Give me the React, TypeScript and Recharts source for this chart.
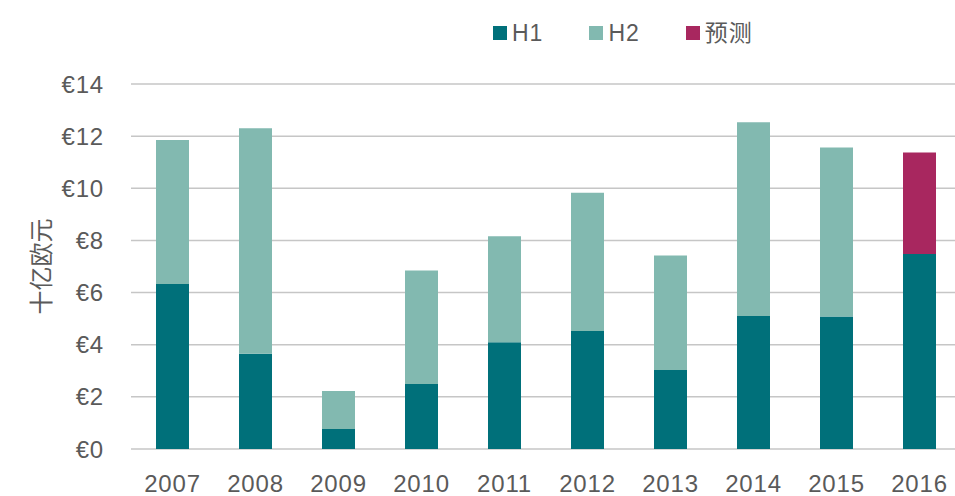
import { BarChart, Bar, XAxis, YAxis, CartesianGrid } from "recharts";

// values, € billions
const years = ["2007", "2008", "2009", "2010", "2011", "2012", "2013", "2014", "2015", "2016"];
const h1 = [6.33, 3.65, 0.77, 2.49, 4.09, 4.53, 3.03, 5.1, 5.08, 7.48];
const h2 = [5.52, 8.65, 1.45, 4.36, 4.07, 5.3, 4.39, 7.43, 6.48, 0];
const forecast = [0, 0, 0, 0, 0, 0, 0, 0, 0, 3.89];
const yTicks = [0, 2, 4, 6, 8, 10, 12, 14];

const series = [
  { key: "h1", name: "H1", color: "#00707a" },
  { key: "h2", name: "H2", color: "#82b9b0" },
  { key: "forecast", name: "预测", color: "#a8275f" },
];

const data = years.map((year, i) => ({
  year,
  h1: h1[i],
  h2: h2[i],
  forecast: forecast[i],
}));

const FONT = '"Liberation Sans", "Noto Sans CJK SC", sans-serif';
const TEXT = "#5a5a5a";

function TopLegend() {
  return (
    <div
      style={{
        position: "absolute",
        top: 19,
        left: 493,
        display: "flex",
        alignItems: "center",
        fontFamily: FONT,
        fontSize: 23,
        letterSpacing: 1,
        color: TEXT,
        lineHeight: "28px",
      }}
    >
      {series.map((s) => (
        <div key={s.key} style={{ display: "flex", alignItems: "center", marginRight: 46 }}>
          <span
            style={{ width: 14, height: 14, background: s.color, display: "inline-block", marginRight: 5 }}
          />
          <span>{s.name}</span>
        </div>
      ))}
    </div>
  );
}

export default function App() {
  return (
    <div
      style={{
        position: "absolute",
        left: 0,
        top: 0,
        width: 955,
        height: 496,
        overflow: "hidden",
        background: "#fff",
      }}
    >
      <TopLegend />
      <BarChart
        width={966}
        height={496}
        data={data}
        margin={{ top: 84, right: 5, bottom: 7, left: 0 }}
        barSize={33}
      >
        <CartesianGrid vertical={false} stroke="#c6c6c6" strokeWidth={1.5} />
        <XAxis
          dataKey="year"
          height={40}
          axisLine={false}
          tickLine={false}
          tickSize={0}
          tickMargin={26}
          interval={0}
          tick={{ fontSize: 24, fill: TEXT, fontFamily: FONT, letterSpacing: 0.8 }}
        />
        <YAxis
          width={131}
          domain={[0, 14]}
          ticks={yTicks}
          axisLine={false}
          tickLine={false}
          tickSize={0}
          tickMargin={27}
          tickFormatter={(v: number) => `€${v}`}
          tick={{ fontSize: 24, fill: TEXT, fontFamily: FONT, letterSpacing: 0.8 }}
          label={{
            value: "十亿欧元",
            angle: -90,
            position: "center",
            dx: -24,
            fontSize: 24,
            fill: TEXT,
            fontFamily: FONT,
          }}
        />
        {series.map((s) => (
          <Bar
            key={s.key}
            dataKey={s.key}
            name={s.name}
            stackId="a"
            fill={s.color}
            isAnimationActive={false}
          />
        ))}
      </BarChart>
    </div>
  );
}
